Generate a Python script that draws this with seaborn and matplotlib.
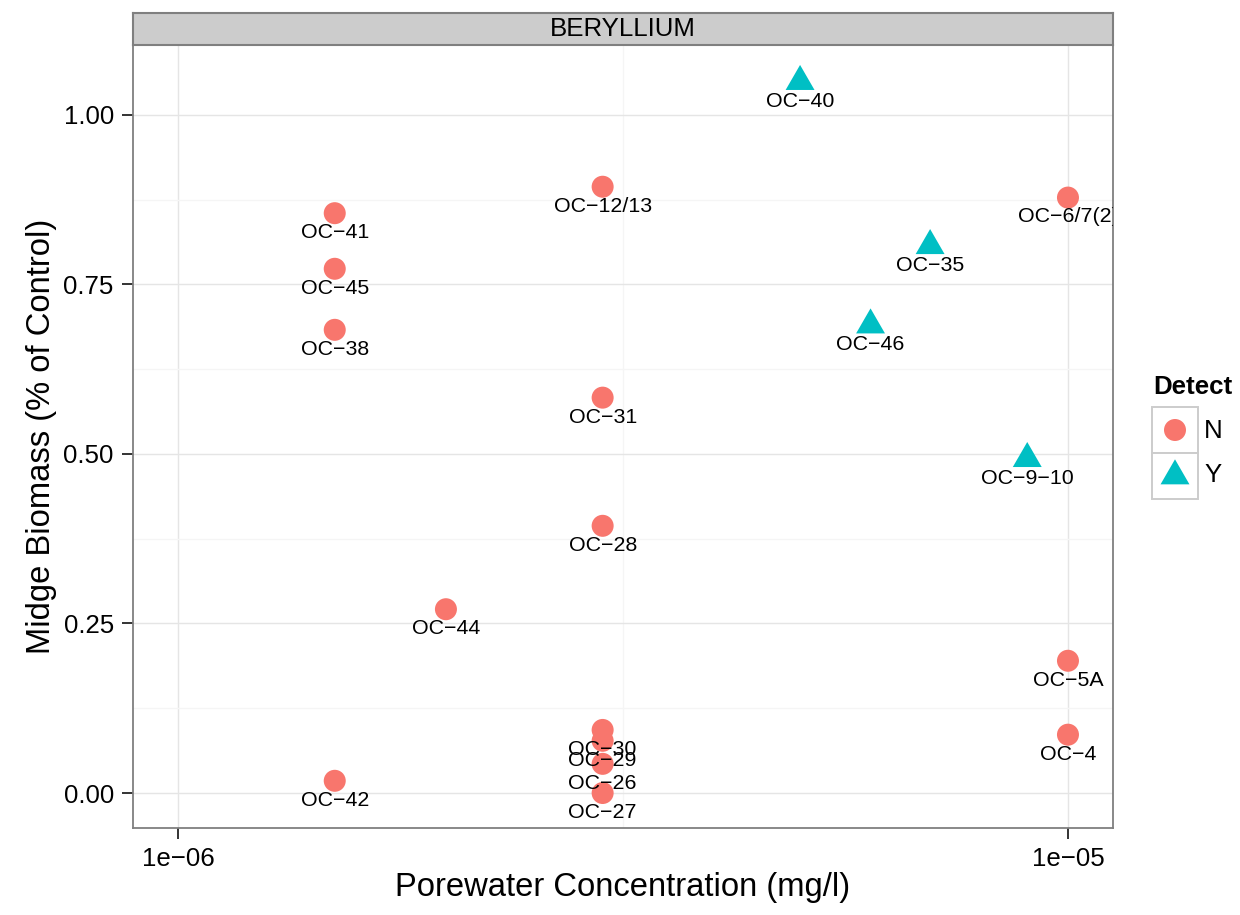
import matplotlib
matplotlib.use("Agg")
import matplotlib.pyplot as plt
import pandas as pd
import seaborn as sns
from matplotlib.patches import Rectangle
from matplotlib.ticker import FixedLocator, NullFormatter
from matplotlib.transforms import ScaledTranslation

# data
sites = ["OC\u221240", "OC\u221212/13", "OC\u22126/7(2)", "OC\u221241", "OC\u221235",
         "OC\u221245", "OC\u221246", "OC\u221238", "OC\u221231", "OC\u22129\u221210",
         "OC\u221228", "OC\u221244", "OC\u22125A", "OC\u221230", "OC\u22124",
         "OC\u221229", "OC\u221226", "OC\u221227", "OC\u221242"]
conc = [5e-6, 3e-6, 1e-5, 1.5e-6, 7e-6,
        1.5e-6, 6e-6, 1.5e-6, 3e-6, 9e-6,
        3e-6, 2e-6, 1e-5, 3e-6, 1e-5,
        3e-6, 3e-6, 3e-6, 1.5e-6]
biomass = [1.049, 0.894, 0.878, 0.855, 0.807,
           0.773, 0.690, 0.683, 0.583, 0.493,
           0.394, 0.271, 0.195, 0.093, 0.086,
           0.077, 0.043, 0.000, 0.018]
detect = ["Y", "N", "N", "N", "Y",
          "N", "Y", "N", "N", "Y",
          "N", "N", "N", "N", "N",
          "N", "N", "N", "N"]
levels = ["N", "Y"]
xticks = [1e-6, 1e-5]
xticklabels = ["1e\u221206", "1e\u221205"]
yticks = [0.0, 0.25, 0.5, 0.75, 1.0]
yticklabels = ["0.00", "0.25", "0.50", "0.75", "1.00"]

df = pd.DataFrame({"site": sites, "conc": conc, "biomass": biomass, "Detect": detect})

sns.set_style("white")
plt.rcParams["font.family"] = ["Liberation Sans", "DejaVu Sans"]
plt.rcParams["text.color"] = "black"
plt.rcParams["axes.labelcolor"] = "black"

W, H = 1240, 915
fig = plt.figure(figsize=(W / 100, H / 100), dpi=100)
ax = fig.add_axes([133 / W, 87 / H, 980 / W, 783 / H])

# R-style filled triangle, centred on its centroid
tri = [(0, 1.555), (1.347, -0.778), (-1.347, -0.778)]
pal = {"N": "#F8766D", "Y": "#00BFC4"}
mk = {"N": "o", "Y": tri}
sz = {"N": 251, "Y": 577}

sns.scatterplot(data=df, x="conc", y="biomass", hue="Detect", style="Detect",
                size="Detect", palette=pal, markers=mk, sizes=sz,
                hue_order=levels, style_order=levels, size_order=levels,
                linewidth=0, alpha=1, legend=False, ax=ax)

# labels sit just below each point, clipped by the panel like ggplot
below = ax.transData + ScaledTranslation(0, -24.9 / 100, fig.dpi_scale_trans)
for s, x, y in zip(sites, conc, biomass):
    ax.text(x, y, s, transform=below, ha="center", va="baseline",
            fontsize=15.4, color="black", clip_on=True)

ax.set_xscale("log")
ax.set_xlim(10 ** -6.0506, 10 ** -4.9494)
ax.set_ylim(-0.0516, 1.103)
ax.set_xticks(xticks, labels=xticklabels)
ax.set_yticks(yticks, labels=yticklabels)
ax.xaxis.set_minor_locator(FixedLocator([10 ** -5.5]))
ax.xaxis.set_minor_formatter(NullFormatter())
ax.yaxis.set_minor_locator(FixedLocator([0.125, 0.375, 0.625, 0.875]))
ax.yaxis.set_minor_formatter(NullFormatter())

ax.grid(which="major", color="#E5E5E5", lw=1.0)
ax.grid(which="minor", color="#F5F5F5", lw=1.0)
ax.set_axisbelow(True)
ax.tick_params(which="major", bottom=True, left=True, length=8, width=1.4,
               color="#333333", labelsize=18.6, pad=5.8, labelcolor="black")
ax.tick_params(which="minor", length=0)
for sp in ax.spines.values():
    sp.set_color("#7F7F7F")
    sp.set_linewidth(1.3)

ax.set_xlabel("Porewater Concentration (mg/l)", fontsize=23.6, va="center",
              color="black")
ax.set_ylabel("Midge Biomass (% of Control)", fontsize=23.6, va="center",
              color="black")
ax.xaxis.set_label_coords(0.5, -0.0754)
ax.yaxis.set_label_coords(-0.0929, 0.5)

# facet strip
sax = fig.add_axes([133 / W, (H - 45) / H, 980 / W, 32 / H])
sax.set_facecolor("#CCCCCC")
sax.set_xticks([])
sax.set_yticks([])
for sp in sax.spines.values():
    sp.set_color("#7F7F7F")
    sp.set_linewidth(1.5)
sax.text(0.5, 0.5, "BERYLLIUM", ha="center", va="center", fontsize=18.6,
         color="black", transform=sax.transAxes)

# legend
lax = fig.add_axes([1140 / W, (H - 510) / H, 100 / W, 150 / H])
key_df = pd.DataFrame({"Detect": levels, "kx": [1175, 1175], "ky": [430, 476]})
for ky in [407, 453]:
    lax.add_patch(Rectangle((1152, ky), 46, 46, facecolor="white",
                            edgecolor="#CCCCCC", lw=1.4))
sns.scatterplot(data=key_df, x="kx", y="ky", hue="Detect", style="Detect",
                size="Detect", palette=pal, markers=mk, sizes=sz,
                hue_order=levels, style_order=levels, size_order=levels,
                linewidth=0, alpha=1, legend=False, ax=lax, zorder=3)
lax.set_xlim(1140, 1240)
lax.set_ylim(510, 360)
lax.axis("off")
lax.text(1153, 386.5, "Detect", fontsize=18.6, fontweight="bold",
         ha="left", va="center", color="black")
lax.text(1204, 431, "N", fontsize=18.6, ha="left", va="center", color="black")
lax.text(1204, 475, "Y", fontsize=18.6, ha="left", va="center", color="black")

fig.savefig("out.png", dpi=100)
